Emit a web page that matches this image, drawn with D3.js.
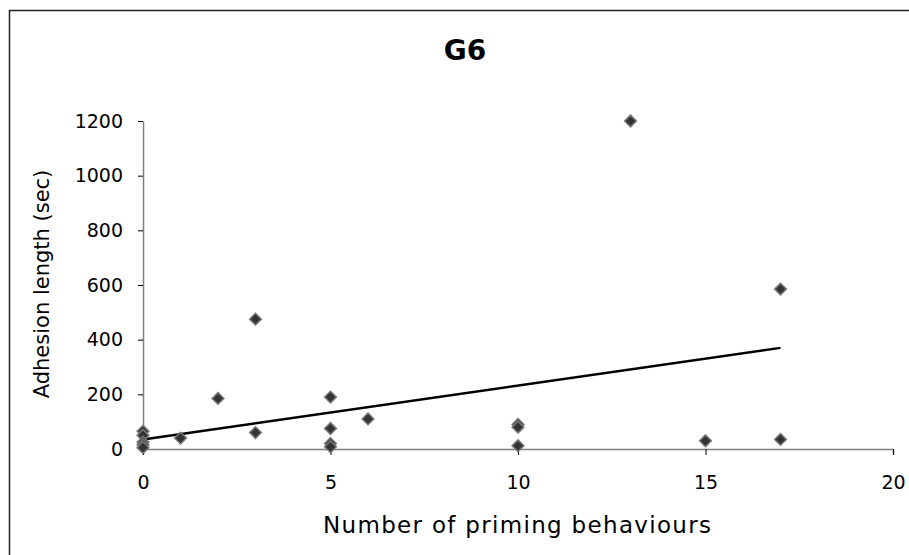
<!DOCTYPE html>
<html>
<head>
<meta charset="utf-8">
<script src="https://cdn.jsdelivr.net/npm/d3@7"></script>
<style>
    body { margin: 0; background: #fff; overflow: hidden; }
    text { font-family: "DejaVu Sans", sans-serif; fill: #000; }
</style>
</head>
<body>
<svg id="paint_feild"></svg>
<script>
// Data
const priming_x = [0, 0, 0, 0, 0, 1, 2, 3, 3, 5, 5, 5, 5, 6, 10, 10, 10, 13, 15, 17, 17];
const adhesion_y = [65, 50, 25, 15, 5, 40, 185, 475, 60, 190, 75, 20, 8, 110, 90, 80, 12, 1200, 30, 585, 35];
const trend_x = [0, 17];
const trend_y = [35, 370];
const x_ticks = [0, 5, 10, 15, 20];
const y_ticks = [0, 200, 400, 600, 800, 1000, 1200];

const svg_width = 909, svg_height = 555;
const svg = d3.select("svg")
    .attr("width", svg_width)
    .attr("height", svg_height)
    .style("display", "block");

// Chart frame: only left and top edges are in view
svg.append("path")
    .attr("d", `M9.5,${svg_height} V10.5 H${svg_width}`)
    .attr("fill", "none")
    .attr("stroke", "#222")
    .attr("stroke-width", 1.5);

const x = d3.scaleLinear().domain([0, 20]).range([143, 893]);
const y = d3.scaleLinear().domain([0, 1200]).range([449, 121]);

// Axes
const x_axis = svg.append("g")
    .attr("transform", `translate(0, ${y(0)})`)
    .call(d3.axisBottom(x).tickValues(x_ticks).tickFormat(d3.format("d"))
        .tickSize(6).tickSizeOuter(6).tickPadding(21));

const y_axis = svg.append("g")
    .attr("transform", `translate(${x(0)}, 0)`)
    .call(d3.axisLeft(y).tickValues(y_ticks).tickFormat(d3.format("d"))
        .tickSize(5).tickSizeOuter(0).tickPadding(15));

[x_axis, y_axis].forEach(axis => {
    axis.select(".domain").attr("stroke", "#808080").attr("stroke-width", 1.5);
    axis.selectAll(".tick line").attr("stroke", "#000").attr("stroke-width", 1);
    axis.selectAll(".tick text")
        .attr("font-size", 19)
        .attr("font-family", "DejaVu Sans, sans-serif")
        .attr("fill", "#000");
});

// Trend line
const trend_points = trend_x.map((d, i) => ({x: d, y: trend_y[i]}));
const line = d3.line()
    .x(d => x(d.x))
    .y(d => y(d.y));
svg.append("path")
    .attr("d", line(trend_points))
    .attr("stroke", "#000")
    .attr("stroke-width", 2.5)
    .attr("fill", "none");

// Points
const points = priming_x.map((d, i) => ({x: d, y: adhesion_y[i]}));
const diamond = d3.symbol().type(d3.symbolDiamond2).size(88);
svg.append("g")
    .selectAll("path")
    .data(points)
    .join("path")
    .attr("d", diamond)
    .attr("transform", d => `translate(${x(d.x)}, ${y(d.y)})`)
    .attr("fill", "#333")
    .attr("stroke", "#777")
    .attr("stroke-width", 1.5);

// Titles
svg.append("text")
    .attr("x", 465)
    .attr("y", 60)
    .attr("text-anchor", "middle")
    .attr("font-size", 28)
    .attr("font-weight", "bold")
    .text("G6");

svg.append("text")
    .attr("x", 517)
    .attr("y", 533)
    .attr("text-anchor", "middle")
    .attr("font-size", 23)
    .attr("textLength", 388)
    .attr("lengthAdjust", "spacing")
    .text("Number of priming behaviours");

svg.append("text")
    .attr("transform", "translate(49, 284) rotate(-90)")
    .attr("text-anchor", "middle")
    .attr("font-size", 21)
    .text("Adhesion length (sec)");
</script>
</body>
</html>
